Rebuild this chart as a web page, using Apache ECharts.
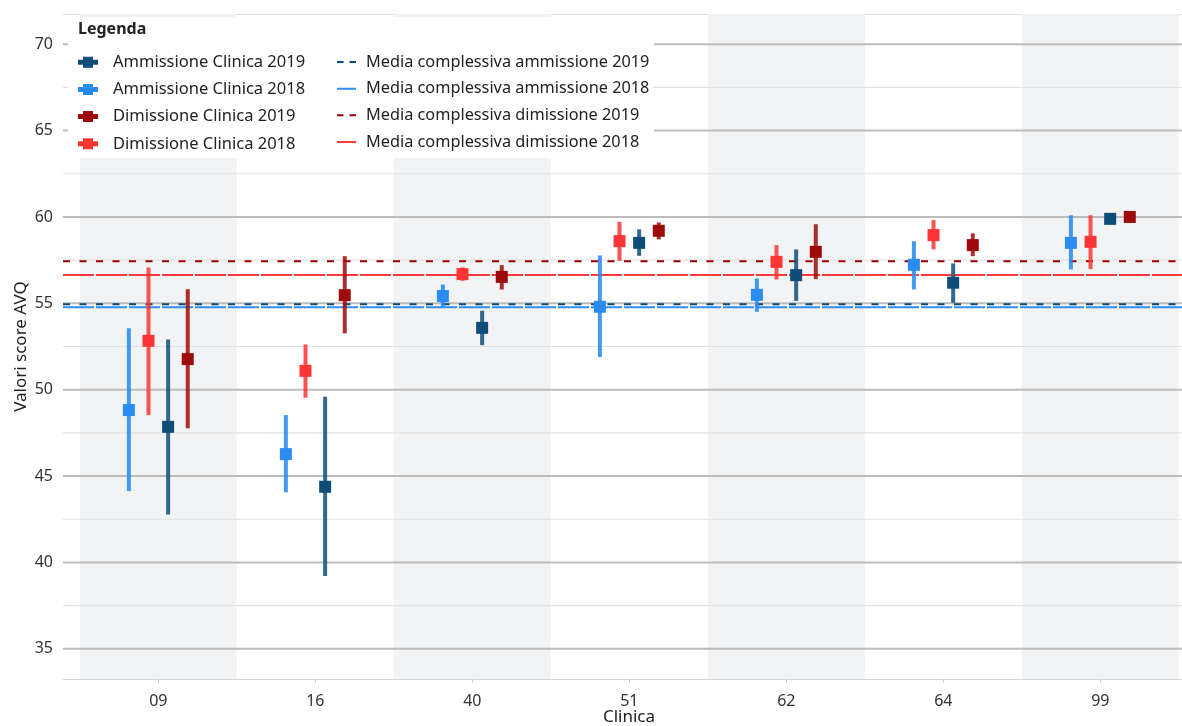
<!DOCTYPE html>
<html>
<head>
<meta charset="utf-8">
<script src="https://cdn.jsdelivr.net/npm/echarts@6/dist/echarts.min.js"></script>
<style>
  html, body { margin: 0; padding: 0; background: #fff; }
  #chart { width: 1182px; height: 726px; }
</style>
</head>
<body>
<div id="chart"></div>
<script>
  // clinics on the x axis
  var categories = ['09', '16', '40', '51', '62', '64', '99']

  // mean and interval per clinic
  var amm2019Mean = [47.85, 44.38, 53.58, 58.50, 56.63, 56.19, 59.89]
  var amm2019Low = [42.78, 39.21, 52.58, 57.75, 55.14, 55.03, 59.89]
  var amm2019High = [52.91, 49.59, 54.57, 59.28, 58.12, 57.31, 59.89]

  var amm2018Mean = [48.82, 46.27, 55.42, 54.80, 55.49, 57.23, 58.50]
  var amm2018Low = [44.13, 44.06, 54.76, 51.89, 54.51, 55.80, 56.96]
  var amm2018High = [53.55, 48.53, 56.09, 57.77, 56.44, 58.60, 60.10]

  var dim2019Mean = [51.77, 55.47, 56.53, 59.20, 57.98, 58.37, 60.00]
  var dim2019Low = [47.76, 53.26, 55.80, 58.70, 56.40, 57.73, 60.00]
  var dim2019High = [55.82, 57.73, 57.21, 59.68, 59.58, 59.05, 60.00]

  var dim2018Mean = [52.83, 51.09, 56.69, 58.60, 57.40, 58.95, 58.56]
  var dim2018Low = [48.53, 49.53, 56.30, 57.46, 56.38, 58.12, 56.98]
  var dim2018High = [57.08, 52.62, 57.08, 59.72, 58.37, 59.82, 60.10]

  // overall means
  var mediaAmm2019 = 54.94
  var mediaAmm2018 = 54.77
  var mediaDim2019 = 57.43
  var mediaDim2018 = 56.64

  // axis ticks
  var yTicks = [35, 40, 45, 50, 55, 60, 65, 70]
  var yMinorTicks = [37.5, 42.5, 47.5, 52.5, 57.5, 62.5, 67.5]
  var shadedClinics = [0, 2, 4, 6]

  var X_MIN = -0.607, X_MAX = 6.52, Y_MIN = 33.25, Y_MAX = 71.75
  var FONT = '"Noto Sans", sans-serif'
  var ICON_PR = 'path://M0,3H5V0H15V3H20V8H15V11H5V8H0Z'
  // tiny corner dots keep the icon box 19x11 so the line stays thin
  var ICON_SOLID = 'path://M0,0h0.01v0.01h-0.01Z M0,4.5H19V6.5H0Z M19,10.99h0.01v0.01h-0.01Z'
  var ICON_DASH = 'path://M0,0h0.01v0.01h-0.01Z M0,4.5H6.5V6.5H0Z M12.5,4.5H19V6.5H12.5Z M19,10.99h0.01v0.01h-0.01Z'

  function buildRange(mean, low, high, offset) {
    return categories.map(function (c, i) {
      return [i + offset, mean[i], low[i], high[i]]
    })
  }

  function rangeSeries(name, color, lineColor, data) {
    return {
      name: name,
      type: 'custom',
      z: 5,
      itemStyle: { color: color },
      renderItem: function (params, api) {
        var x = api.value(0)
        var p = api.coord([x, api.value(1)])
        var lo = api.coord([x, api.value(2)])
        var hi = api.coord([x, api.value(3)])
        return {
          type: 'group',
          children: [{
            type: 'line',
            shape: { x1: p[0], y1: hi[1], x2: p[0], y2: lo[1] },
            style: { stroke: lineColor, lineWidth: 4 }
          }, {
            type: 'rect',
            shape: { x: p[0] - 6, y: p[1] - 6, width: 12, height: 12 },
            style: { fill: color }
          }]
        }
      },
      data: data
    }
  }

  function meanSeries(name, color, dash, value) {
    return {
      name: name,
      type: 'line',
      z: 3,
      symbol: 'none',
      silent: true,
      lineStyle: { color: color, width: 2, type: dash },
      itemStyle: { color: color },
      data: [[X_MIN, value], [X_MAX, value]]
    }
  }

  var chart = echarts.init(document.getElementById('chart'))

  chart.setOption({
    animation: false,
    textStyle: { fontFamily: FONT },
    grid: { left: 63, right: 0, top: 14, bottom: 47, outerBoundsMode: 'none', containLabel: false },
    graphic: [{
      type: 'rect',
      z: 50,
      shape: { x: 68, y: 17, width: 586, height: 141 },
      style: { fill: '#ffffff' }
    }, {
      type: 'text',
      z: 60,
      x: 78,
      y: 21,
      style: { text: 'Legenda', font: 'bold 16px "Noto Sans", sans-serif', fill: '#222' }
    }],
    legend: [{
      z: 60,
      orient: 'vertical',
      left: 78,
      top: 53.7,
      padding: 0,
      itemWidth: 20,
      itemHeight: 11,
      itemGap: 10.2,
      textStyle: { fontSize: 16.5, color: '#222', lineHeight: 16.5, padding: [0, 0, 0, 10], fontFamily: FONT },
      data: [
        { name: 'Ammissione Clinica 2019', icon: ICON_PR },
        { name: 'Ammissione Clinica 2018', icon: ICON_PR },
        { name: 'Dimissione Clinica 2019', icon: ICON_PR },
        { name: 'Dimissione Clinica 2018', icon: ICON_PR }
      ]
    }, {
      z: 60,
      orient: 'vertical',
      left: 337,
      top: 53.7,
      padding: 0,
      itemWidth: 19,
      itemHeight: 11,
      itemGap: 10.2,
      textStyle: { fontSize: 16.3, color: '#222', lineHeight: 16.5, padding: [0, 0, 0, 5], fontFamily: FONT },
      data: [
        { name: 'Media complessiva ammissione 2019', icon: ICON_DASH },
        { name: 'Media complessiva ammissione 2018', icon: ICON_SOLID },
        { name: 'Media complessiva dimissione 2019', icon: ICON_DASH },
        { name: 'Media complessiva dimissione 2018', icon: ICON_SOLID }
      ]
    }],
    xAxis: [{
      type: 'value',
      min: X_MIN,
      max: X_MAX,
      name: 'Clinica',
      nameLocation: 'middle',
      nameGap: 30,
      nameMoveOverlap: false,
      nameTextStyle: { fontSize: 17, color: '#222', padding: [0, 0, 0, 13] },
      axisLine: { lineStyle: { color: '#d6d6d6', width: 1 } },
      axisTick: { show: true, length: 4, lineStyle: { color: '#cfcfcf' }, customValues: [0, 1, 2, 3, 4, 5, 6] },
      axisLabel: {
        fontSize: 16,
        color: '#333',
        margin: 14,
        customValues: [0, 1, 2, 3, 4, 5, 6],
        formatter: function (v) { return categories[Math.round(v)] }
      },
      splitLine: { show: false }
    }, {
      type: 'value',
      position: 'top',
      min: X_MIN,
      max: X_MAX,
      axisLine: { show: true, lineStyle: { color: '#dcdcdc', width: 1 } },
      axisTick: { show: false },
      axisLabel: { show: false },
      splitLine: { show: false }
    }],
    yAxis: {
      type: 'value',
      min: Y_MIN,
      max: Y_MAX,
      name: 'Valori score AVQ',
      nameLocation: 'middle',
      nameGap: 33,
      nameMoveOverlap: false,
      nameTextStyle: { fontSize: 17, color: '#222' },
      axisLine: { show: true, lineStyle: { color: '#d6d6d6', width: 1 } },
      axisTick: { show: true, length: 4, lineStyle: { color: '#cfcfcf' }, customValues: yTicks },
      axisLabel: { fontSize: 16, color: '#333', margin: 10, customValues: yTicks },
      splitLine: { show: false }
    },
    series: [
      {
        // shaded bands behind alternate clinics
        type: 'custom',
        z: 1,
        silent: true,
        renderItem: function (params, api) {
          var i = api.value(0)
          var a = api.coord([i - 0.5, Y_MAX])
          var b = api.coord([i + 0.5, Y_MIN])
          return {
            type: 'rect',
            shape: echarts.graphic.clipRectByRect(
              { x: a[0], y: a[1], width: b[0] - a[0], height: b[1] - a[1] },
              params.coordSys),
            style: { fill: '#f2f3f5' }
          }
        },
        data: shadedClinics.map(function (i) { return [i] })
      },
      {
        // horizontal gridlines
        type: 'custom',
        z: 2,
        silent: true,
        renderItem: function (params, api) {
          var v = api.value(0)
          var major = api.value(1)
          var a = api.coord([X_MIN, v])
          var b = api.coord([X_MAX, v])
          return {
            type: 'line',
            shape: { x1: a[0], y1: a[1], x2: b[0], y2: b[1] },
            style: { stroke: major ? '#bcbcbc' : '#e2e2e2', lineWidth: major ? 2 : 1.2 }
          }
        },
        data: yTicks.map(function (v) { return [v, 1] }).concat(yMinorTicks.map(function (v) { return [v, 0] }))
      },
      meanSeries('Media complessiva ammissione 2019', '#0d4a74', [7, 9.5], mediaAmm2019),
      meanSeries('Media complessiva ammissione 2018', '#2e8ff0', [31, 2], mediaAmm2018),
      meanSeries('Media complessiva dimissione 2019', '#990000', [7, 9.5], mediaDim2019),
      meanSeries('Media complessiva dimissione 2018', '#ff3a3a', [31, 2], mediaDim2018),
      rangeSeries('Ammissione Clinica 2018', '#2a8cf0', 'rgba(42,140,240,0.88)',
        buildRange(amm2018Mean, amm2018Low, amm2018High, -0.1875)),
      rangeSeries('Dimissione Clinica 2018', '#ff3535', 'rgba(255,53,53,0.85)',
        buildRange(dim2018Mean, dim2018Low, dim2018High, -0.0625)),
      rangeSeries('Ammissione Clinica 2019', '#0e4d78', 'rgba(14,77,120,0.85)',
        buildRange(amm2019Mean, amm2019Low, amm2019High, 0.0625)),
      rangeSeries('Dimissione Clinica 2019', '#9e0b0b', 'rgba(158,11,11,0.85)',
        buildRange(dim2019Mean, dim2019Low, dim2019High, 0.1875))
    ]
  })
</script>
</body>
</html>
